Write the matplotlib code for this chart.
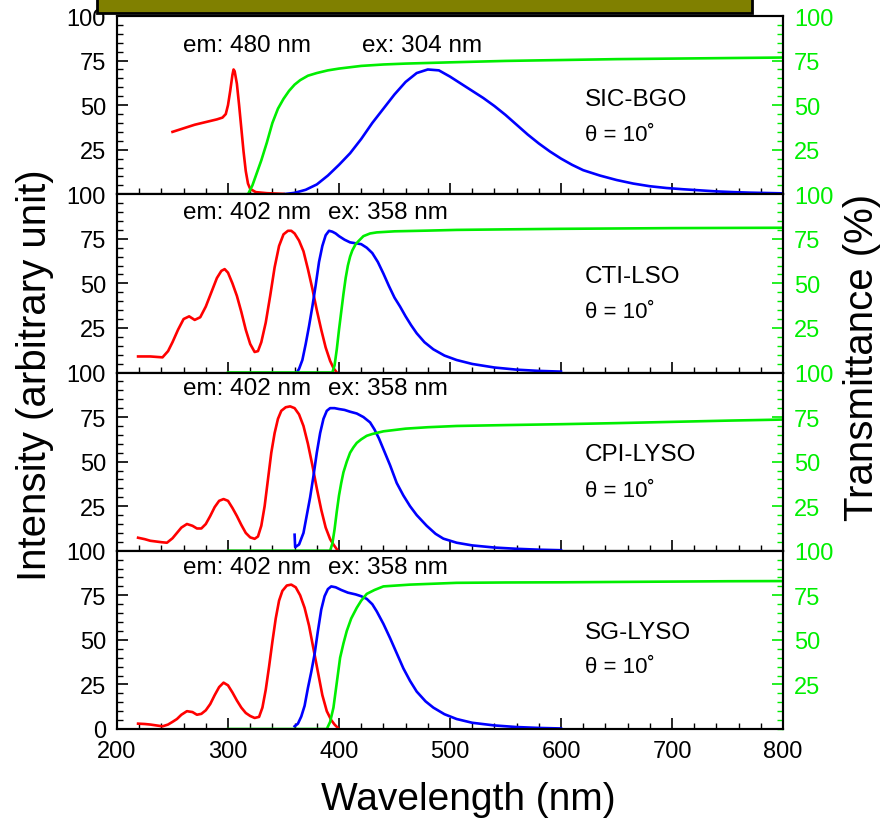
import matplotlib
matplotlib.use("Agg")
import matplotlib.pyplot as plt
from matplotlib.ticker import MultipleLocator
from matplotlib.patches import Rectangle

plt.rcParams['font.family'] = ['Liberation Sans', 'DejaVu Sans']

# ---------------- data ----------------
samples = ["SIC-BGO", "CTI-LSO", "CPI-LYSO", "SG-LYSO"]
em_labels = ["em: 480 nm", "em: 402 nm", "em: 402 nm", "em: 402 nm"]
ex_labels = ["ex: 304 nm", "ex: 358 nm", "ex: 358 nm", "ex: 358 nm"]
angle_label = "θ = 10˚"

# excitation spectra (red)
exc_wl_bgo = [250, 260, 270, 280, 290, 295, 298, 300, 302, 304, 305, 306, 308, 310, 312, 314, 316, 318,
              320, 325, 335, 350]
exc_bgo = [35, 37, 39, 40.5, 42, 43, 45, 50, 58, 67, 70, 69, 62, 50, 37, 24, 13, 6,
           3, 1.2, 0.6, 0.2]
exc_wl_lso = [219, 230, 241, 246, 250, 255, 260, 265, 270, 275, 280, 285, 290, 294, 297, 300, 304, 308,
              312, 316, 320, 324, 327, 330, 334, 338, 342, 346, 350, 354, 357, 360, 364, 368, 372,
              376, 380, 384, 388, 392, 395, 398]
exc_lso = [9, 9, 8.5, 12, 17, 24, 30, 31.5, 29.5, 31, 37, 45, 53, 57, 58, 56, 50, 43,
           34, 24, 16, 11.5, 12, 17, 28, 43, 59, 71, 77.5, 79.5, 79.5, 78, 74, 68, 58,
           47, 35, 24, 14, 6.5, 2.5, 0]
exc_wl_cpi = [219, 225, 230, 240, 245, 250, 254, 258, 263, 268, 272, 276, 280, 284, 288, 292, 296, 300,
              304, 308, 312, 316, 320, 324, 327, 330, 333, 336, 339, 342, 345, 348, 352, 356, 360,
              364, 368, 372, 376, 380, 384, 388, 392, 395, 399]
exc_cpi = [7.3, 6.5, 5.6, 4.8, 4.5, 7, 10, 13, 15, 14, 12.5, 12.5, 15, 19.5, 24.5, 28, 29, 28,
           24, 19.5, 14.5, 10, 7.5, 6.7, 8, 14, 25, 40, 55, 66, 74, 78.5, 80.5, 81, 80,
           76.5, 70, 60, 48, 35, 23, 13, 6.5, 3.5, 0]
exc_wl_sg = [219, 225, 230, 241, 246, 250, 254, 258, 263, 268, 272, 276, 280, 284, 288, 292, 296, 300,
             304, 308, 312, 316, 320, 324, 328, 331, 334, 337, 340, 343, 346, 349, 353, 357, 361,
             365, 369, 373, 377, 381, 385, 389, 393, 396, 400]
exc_sg = [3, 2.8, 2.5, 1.5, 2.5, 4, 5.6, 8, 10, 9.5, 8, 8.5, 10.5, 14, 19, 23.5, 26, 24.5,
          20.5, 16, 12, 9, 7.3, 6.2, 6.8, 12, 22, 35, 49, 62, 72, 77.5, 80.5, 81, 79.5,
          75, 68, 58, 45, 32, 19, 10, 5, 2.5, 0]

# emission spectra (blue)
emi_wl_bgo = [350, 360, 370, 380, 390, 400, 410, 420, 430, 440, 450, 460, 470, 480, 490, 500, 510, 520,
              530, 540, 550, 560, 570, 580, 590, 600, 610, 620, 635, 650, 665, 680, 695, 710, 725,
              740, 755, 770, 800]
emi_bgo = [0, 0.8, 2.5, 5.5, 10.5, 16.5, 23, 31, 40, 48, 56, 63, 68, 70, 69.5, 66, 62, 58,
           54, 49.5, 44.5, 39, 33.5, 28.5, 24, 20, 16.5, 13.5, 10.5, 8, 6, 4.5, 3.5, 2.8, 2.2,
           1.6, 1.2, 0.9, 0.5]
emi_wl_lso = [362, 364, 367, 370, 373, 376, 379, 382, 385, 388, 391, 394, 397, 400, 405, 410, 415, 420,
              425, 430, 435, 440, 445, 450, 455, 460, 465, 470, 477, 485, 495, 506, 520, 540, 560,
              580, 600]
emi_lso = [0, 2, 7, 16, 26, 37, 49, 62, 71, 77, 79.5, 79, 78, 76.5, 74.5, 73, 72.5, 72,
           70, 67, 62, 55.5, 48.5, 42, 37, 31.5, 26.5, 22, 17, 13, 9.5, 7, 4.8, 2.8, 1.6,
           0.9, 0.5]
emi_wl_cpi = [360, 360.5, 364, 368, 371, 374, 377, 380, 383, 386, 389, 392, 396, 400, 405, 410, 416, 422,
              428, 432, 436, 440, 446, 452, 458, 464, 470, 479, 487, 494, 506, 520, 540, 560, 580,
              600]
emi_cpi = [9, 2, 3.5, 10, 20, 30, 42, 55, 66, 74, 78.5, 80, 80, 79.5, 79, 78, 77, 75,
           72, 68, 63, 57, 48, 38, 31, 25, 20, 14, 9.5, 6.8, 4.5, 3, 1.8, 1.1, 0.6,
           0.3]
emi_wl_sg = [360, 363, 366, 369, 372, 375, 378, 381, 384, 387, 390, 393, 397, 402, 408, 415, 420, 425,
             430, 434, 440, 446, 452, 458, 464, 470, 478, 485, 495, 506, 520, 540, 560, 580, 600]
emi_sg = [1.5, 3, 7, 13, 23, 32, 42, 55, 67, 74.5, 78.5, 80, 79.5, 78, 76.5, 75.5, 74.5, 73,
          70, 66, 59, 51, 42.5, 34, 27, 21, 15.5, 12, 8.3, 5.6, 3.5, 2, 1.1, 0.6, 0.3]

# transmittance (green)
tr_wl_bgo = [300, 318, 322, 326, 330, 335, 340, 345, 350, 355, 360, 365, 372, 380, 390, 400, 420, 440,
             460, 500, 550, 600, 650, 700, 750, 800]
tr_bgo = [0, 0, 5, 12, 19, 29, 40, 48, 53.5, 58, 61.5, 64, 66.5, 68, 69.5, 70.5, 72, 72.8,
          73.3, 74, 74.8, 75.3, 75.8, 76.1, 76.4, 76.7]
tr_wl_lso = [300, 394, 396, 398, 400, 402, 404, 406, 408, 410, 412, 415, 418, 422, 428, 434, 450, 480,
             506, 550, 600, 650, 700, 750, 800]
tr_lso = [0, 0, 4, 13, 24, 34, 44, 53, 60, 65, 68.5, 72, 74, 76.5, 78, 78.6, 79.2, 79.6,
          80, 80.3, 80.6, 80.8, 81, 81.1, 81.2]
tr_wl_cpi = [300, 392, 394, 396, 398, 400, 402, 404, 407, 410, 413, 416, 420, 425, 430, 440, 460, 480,
             506, 550, 600, 650, 700, 750, 800]
tr_cpi = [0, 0, 4, 12, 22, 31, 38, 44, 50, 55, 58, 60.5, 62.5, 64.5, 65.5, 67, 68.5, 69.3,
          70, 70.5, 71, 71.6, 72.3, 73, 73.6]
tr_wl_sg = [300, 389, 392, 395, 398, 401, 404, 407, 411, 416, 420, 425, 432, 440, 464, 506, 550,
            600, 650, 700, 750, 800]
tr_sg = [0, 0, 4, 12, 26, 40, 48, 55, 62, 68, 72, 75.8, 78, 80, 81, 82, 82.2,
         82.3, 82.5, 82.7, 82.9, 83]

exc_wl = [exc_wl_bgo, exc_wl_lso, exc_wl_cpi, exc_wl_sg]
exc = [exc_bgo, exc_lso, exc_cpi, exc_sg]
emi_wl = [emi_wl_bgo, emi_wl_lso, emi_wl_cpi, emi_wl_sg]
emi = [emi_bgo, emi_lso, emi_cpi, emi_sg]
tr_wl = [tr_wl_bgo, tr_wl_lso, tr_wl_cpi, tr_wl_sg]
tr = [tr_bgo, tr_lso, tr_cpi, tr_sg]

# ---------------- figure ----------------
W, H = 893, 829
fig = plt.figure(figsize=(W / 100, H / 100), dpi=100)

left_px, right_px = 117, 783
top_px, bot_px = 17, 730
ph = (bot_px - top_px) / 4

GREEN = '#00ee00'
text_pos_y = [84, 90, 91.5, 91]
ex_x = [421, 390, 390, 390]
name_y = [53.4, 54, 54.5, 54.5]
theta_y = [33.7, 34, 34, 35]

for i in range(4):
    y0 = bot_px - (3 - i) * ph
    ax = fig.add_axes([left_px / W, 1 - y0 / H, (right_px - left_px) / W, ph / H])
    ax2 = ax.twinx()
    ax.set_xlim(200, 800)
    ax.set_ylim(0, 100)
    ax2.set_ylim(0, 100)

    ax.plot(exc_wl[i], exc[i], color='#ff0000', lw=1.9, zorder=3)
    ax.plot(emi_wl[i], emi[i], color='#0000ff', lw=1.9, zorder=3)
    ax2.plot(tr_wl[i], tr[i], color=GREEN, lw=1.9)

    for a in (ax, ax2):
        for s in a.spines.values():
            s.set_linewidth(1.5)
            s.set_color('black')

    ax.xaxis.set_major_locator(MultipleLocator(100))
    ax.xaxis.set_minor_locator(MultipleLocator(20))
    ax.yaxis.set_major_locator(MultipleLocator(25))
    ax.yaxis.set_minor_locator(MultipleLocator(5))
    ax2.yaxis.set_major_locator(MultipleLocator(25))
    ax2.yaxis.set_minor_locator(MultipleLocator(5))

    ax.tick_params(axis='both', which='major', direction='in', length=8, width=1.2,
                   labelsize=17, pad=8)
    ax.tick_params(axis='both', which='minor', direction='in', length=4, width=1.0)
    ax.tick_params(axis='y', which='both', right=False)
    ax.tick_params(axis='x', which='both', top=False)
    ax2.tick_params(axis='y', which='major', direction='in', length=8, width=1.2,
                    colors=GREEN, labelsize=17, pad=8)
    ax2.tick_params(axis='y', which='minor', direction='in', length=4, width=1.0, colors=GREEN)

    if i < 3:
        ax.set_yticks([25, 50, 75, 100])
        ax.set_xticklabels([])
    else:
        ax.set_yticks([0, 25, 50, 75, 100])
    ax2.set_yticks([25, 50, 75, 100])

    ax.text(259.5, text_pos_y[i], em_labels[i], fontsize=17.5, va='center', ha='left')
    ax.text(ex_x[i], text_pos_y[i], ex_labels[i], fontsize=17.5, va='center', ha='left')
    ax.text(621.6, name_y[i], samples[i], fontsize=17.5, va='center', ha='left')
    ax.text(621.6, theta_y[i], angle_label, fontsize=16, va='center', ha='left')

# olive header box (partially visible)
fig.patches.append(Rectangle((97 / W, 1 - 14 / H), (752 - 97) / W, 0.05,
                             transform=fig.transFigure, facecolor='#808000',
                             edgecolor='black', linewidth=2, clip_on=False))

fig.text(35 / W, 1 - 375 / H, "Intensity (arbitrary unit)", rotation=90,
         fontsize=29, ha='center', va='center')
fig.text(862 / W, 1 - 357 / H, "Transmittance (%)", rotation=90,
         fontsize=29, ha='center', va='center')
fig.text(468 / W, 1 - 800 / H, "Wavelength (nm)", fontsize=28, ha='center', va='center')

fig.savefig("out.png", dpi=100)
